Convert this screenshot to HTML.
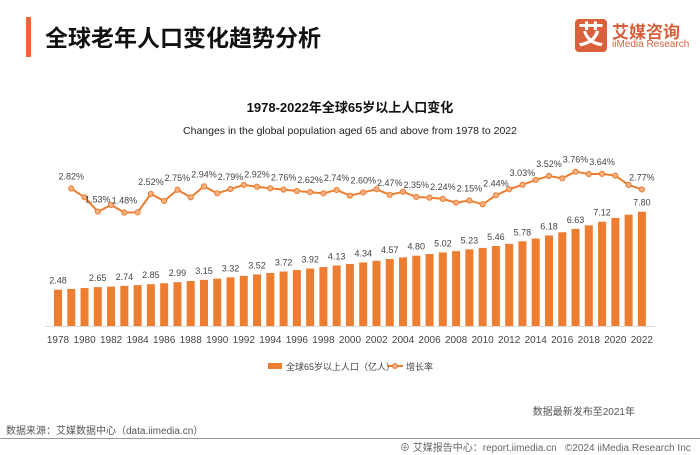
<!DOCTYPE html>
<html><head><meta charset="utf-8">
<style>
body{margin:0;width:700px;height:455px;background:#fff;overflow:hidden;font-family:"Liberation Sans","Noto Sans CJK SC",sans-serif;position:relative}
.abs{position:absolute;white-space:nowrap}
</style></head><body>
<div class="abs" style="left:26px;top:17px;width:5px;height:40px;background:#e8683a"></div>
<div class="abs" style="left:45px;top:19px;font-size:23px;font-weight:bold;color:#111">全球老年人口变化趋势分析</div>
<div class="abs" style="left:575px;top:19px;width:32px;height:33px;background:#d9603b;border-radius:4px;color:#fff;font-size:26px;font-weight:bold;text-align:center;line-height:33px">艾</div>
<div class="abs" style="left:612px;top:18px;font-size:17px;font-weight:bold;color:#d9603b">艾媒咨询</div>
<div class="abs" style="left:612px;top:39px;font-size:10px;color:#d9603b">iiMedia Research</div>

<svg class="abs" style="left:0;top:0" width="700" height="455" id="chart">
<text x="350" y="112" text-anchor="middle" font-size="13" font-weight="bold" fill="#111">1978-2022年全球65岁以上人口变化</text>
<text x="350" y="134" text-anchor="middle" font-size="10.5" fill="#222">Changes in the global population aged 65 and above from 1978 to 2022</text>
<line x1="45" x2="655" y1="326.5" y2="326.5" stroke="#ddd"/>
<g id="bars"></g><g id="line"></g><g id="labels"></g><g id="xt"></g>
<rect x="268" y="363" width="14" height="6" fill="#ed7d31"/>
<text x="286" y="370" font-size="9" fill="#444">全球65岁以上人口（亿人）</text>
<line x1="387" x2="403" y1="366" y2="366" stroke="#ed7d31" stroke-width="2"/>
<circle cx="395" cy="366" r="2.5" fill="#f4b183" stroke="#ed7d31"/>
<text x="406" y="370" font-size="9" fill="#444">增长率</text>
<text x="635" y="415" text-anchor="end" font-size="10" fill="#555">数据最新发布至2021年</text>
<text x="6" y="434" font-size="10" fill="#555">数据来源：艾媒数据中心（data.iimedia.cn）</text>
<line x1="0" x2="700" y1="438.5" y2="438.5" stroke="#999"/>
<text x="400" y="451" font-size="10" fill="#666">⊕ 艾媒报告中心：report.iimedia.cn</text>
<text x="565" y="451" font-size="10" fill="#666">©2024  iiMedia Research Inc</text>
</svg>
<script>
const years=[1978,1979,1980,1981,1982,1983,1984,1985,1986,1987,1988,1989,1990,1991,1992,1993,1994,1995,1996,1997,1998,1999,2000,2001,2002,2003,2004,2005,2006,2007,2008,2009,2010,2011,2012,2013,2014,2015,2016,2017,2018,2019,2020,2021,2022];
const population=[2.48,2.53,2.59,2.65,2.69,2.74,2.79,2.85,2.92,2.99,3.07,3.15,3.23,3.32,3.42,3.52,3.62,3.72,3.82,3.92,4.02,4.13,4.23,4.34,4.45,4.57,4.68,4.80,4.91,5.02,5.11,5.23,5.33,5.46,5.61,5.78,5.97,6.18,6.40,6.63,6.87,7.12,7.38,7.60,7.80];
const growthYears=years.slice(1);
const growth=[2.82,2.33,1.53,1.90,1.48,1.49,2.52,2.12,2.75,2.33,2.94,2.55,2.79,3.02,2.92,2.83,2.76,2.68,2.62,2.55,2.74,2.42,2.60,2.78,2.47,2.64,2.35,2.31,2.24,2.03,2.15,1.94,2.44,2.78,3.03,3.30,3.52,3.39,3.76,3.63,3.64,3.54,3.02,2.77];
const tickYears=[1978,1980,1982,1984,1986,1988,1990,1992,1994,1996,1998,2000,2002,2004,2006,2008,2010,2012,2014,2016,2018,2020,2022];
const NS='http://www.w3.org/2000/svg';
const xs=y=>58+(y-1978)*13.27;
const yb=v=>326-v*14.65;
const yl=v=>171.7+(3.76-v)*17.9;
function mk(t,a,p){const e=document.createElementNS(NS,t);for(const k in a)e.setAttribute(k,a[k]);document.getElementById(p).appendChild(e);return e;}
const midLabeled=y=>y===2022||(y%2===1&&y>=1981&&y<=2019);
years.forEach((y,i)=>{
 const r=mk('rect',{x:xs(y)-4,y:yb(population[i]),width:8,height:326-yb(population[i]),fill:'#ed7d31'},'bars');
 
 
 if(i===0||midLabeled(y)){const t=mk('text',{x:xs(y),y:yb(population[i])-6,'text-anchor':'middle','font-size':'9',fill:'#444'},'labels');t.textContent=population[i].toFixed(2);
 
 }
});
const pl=mk('polyline',{points:growthYears.map((y,i)=>xs(y)+','+yl(growth[i])).join(' '),fill:'none',stroke:'#ed7d31','stroke-width':2},'line');


growthYears.forEach((y,i)=>{
 const c=mk('circle',{cx:xs(y),cy:yl(growth[i]),r:2.6,fill:'#f4b183',stroke:'#ed7d31','stroke-width':1},'line');
 
 
 if(i===0||midLabeled(y)){const t=mk('text',{x:xs(y),y:yl(growth[i])-9,'text-anchor':'middle','font-size':'9',fill:'#444'},'labels');t.textContent=growth[i].toFixed(2)+'%';
 
 }
});
tickYears.forEach(y=>{const t=mk('text',{x:xs(y),y:343,'text-anchor':'middle','font-size':'10',fill:'#444'},'xt');t.textContent=y;
 
 });
</script>
</body></html>
